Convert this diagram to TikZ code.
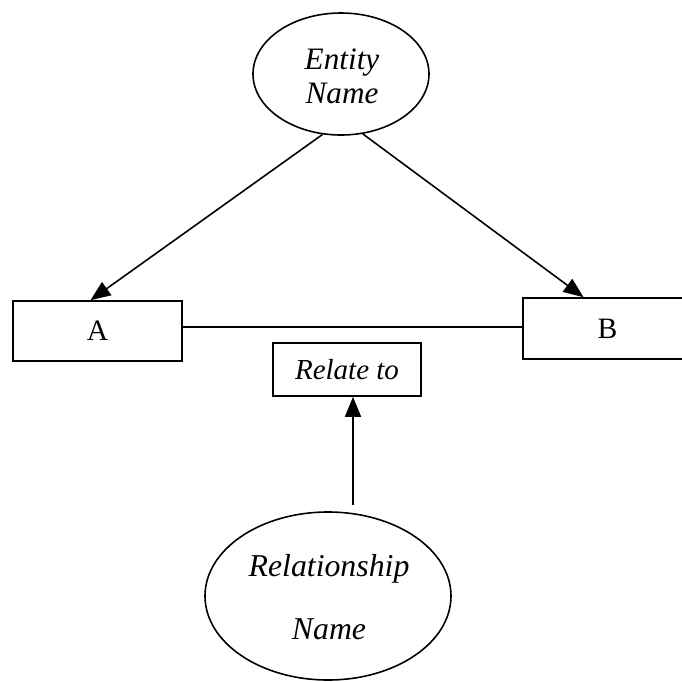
\documentclass[tikz,border=0pt]{standalone}
\usepackage{fontspec}
\setmainfont{Liberation Serif}
\usetikzlibrary{shapes.geometric,arrows.meta}
\begin{document}
\begin{tikzpicture}[x=0.5pt,y=-0.5pt,
  line width=0.8pt,
  ell/.style={draw,ellipse,inner sep=0pt},
  boxnode/.style={draw,rectangle,inner sep=0pt},
  boxfont/.style={font=\fontsize{14.8}{16}\selectfont},
  arr/.style={-{Triangle[length=10pt,width=8pt]}}]
\useasboundingbox (0,0) rectangle (682,682);
\node[ell,minimum width=176*0.5pt,minimum height=122*0.5pt] (ent) at (341,74) {};
\node[font=\fontsize{15.6}{17}\selectfont\itshape,align=center] (entt) at (342,76) {Entity\\Name};
\node[boxnode,boxfont,minimum width=169*0.5pt,minimum height=60*0.5pt] (A) at (97.5,331) {A};
\node[boxnode,boxfont,minimum width=169*0.5pt,minimum height=61*0.5pt] (B) at (607.5,328.5) {B};
\node[boxnode,boxfont,minimum width=148*0.5pt,minimum height=53*0.5pt,font=\fontsize{14.5}{16}\selectfont\itshape] (R) at (347,369.5) {Relate to};
\node[ell,minimum width=246*0.5pt,minimum height=168*0.5pt] (rel) at (328,596) {};
\node[font=\fontsize{15.9}{31.5}\selectfont\itshape,align=center] (relt) at (329,597) {Relationship\\Name};
\draw[arr] (ent.253) -- ([xshift=-3.5pt]A.north);
\draw[arr] (ent.290) -- ([xshift=-12pt]B.north);
\coordinate (h1) at ([yshift=2pt]A.east);
\draw (h1) -- (h1 -| B.west);
\coordinate (c1) at ([xshift=3pt,yshift=3pt]R.south |- rel.north);
\draw[arr] (c1) -- ([xshift=3pt]R.south);
\end{tikzpicture}
\end{document}
